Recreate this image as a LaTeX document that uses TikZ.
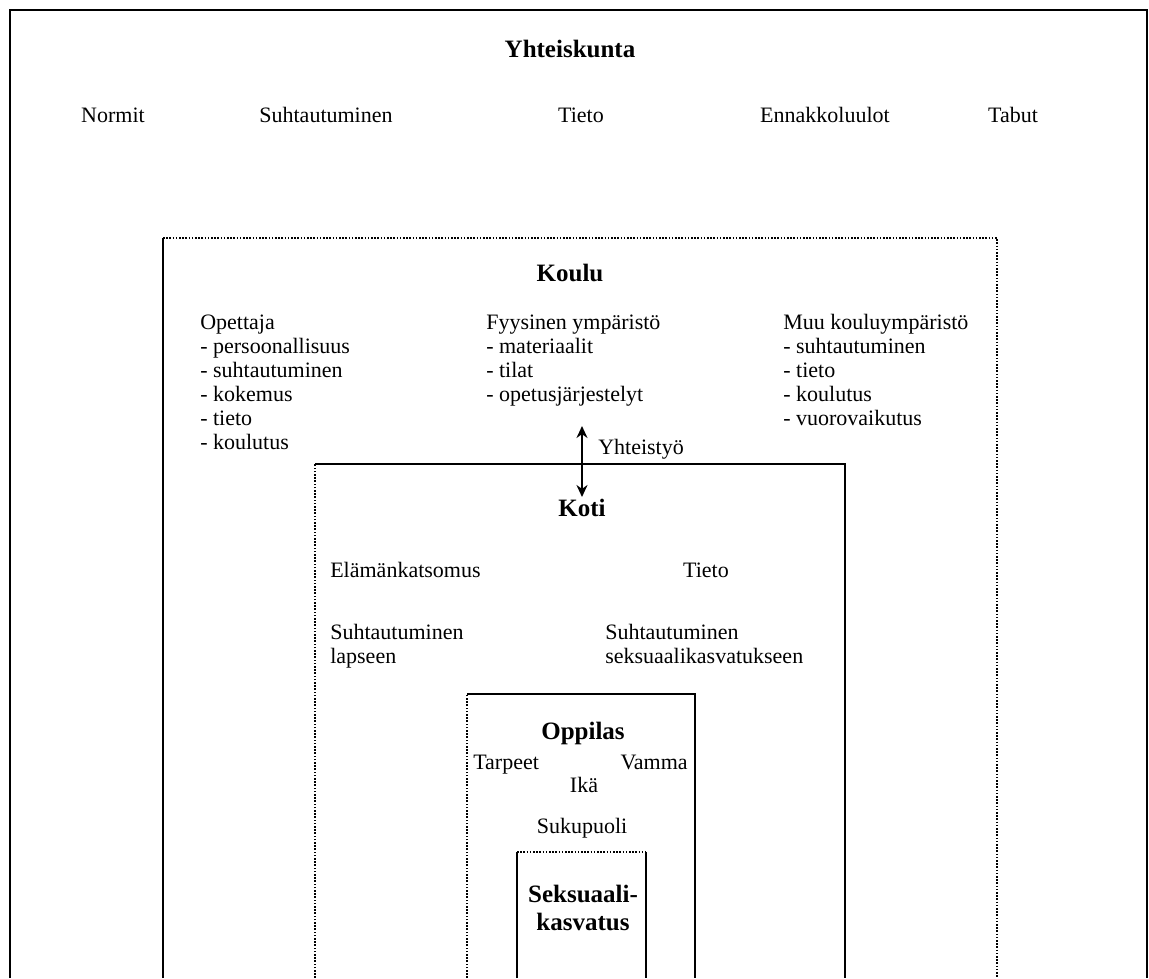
\documentclass[tikz,border=0pt]{standalone}
\usepackage{fontspec}
\setmainfont{Liberation Serif}
\usetikzlibrary{arrows.meta, positioning}

\begin{document}
\begin{tikzpicture}[x=1pt,y=-1pt,>={Stealth[length=12pt,width=11pt]},semithick]
	\tikzset{wall/.style={line width=1.4pt},
		dotwall/.style={line width=1.4pt,dash pattern=on 1.6pt off 1.6pt},
		txt/.style={inner sep=0pt,font=\fontsize{22}{24}\selectfont},
		lst/.style={txt,align=left,anchor=base west},
		ttl/.style={inner sep=0pt,font=\fontsize{25}{28}\selectfont\bfseries}}
	\useasboundingbox (0,0) rectangle (1149,978);
	% boxes, open at the bottom
	\draw[wall] (10,978) -- (10,10) -- (1147,10) -- (1147,978);
	\draw[wall] (163,978) -- (163,238);
	\draw[dotwall] (163,238) -- (997,238) -- (997,978);
	\draw[dotwall] (315,978) -- (315,464);
	\draw[wall] (315,464) -- (845,464) -- (845,978);
	\draw[dotwall] (467,978) -- (467,694);
	\draw[wall] (467,694) -- (695,694) -- (695,978);
	\draw[wall] (517,978) -- (517,852);
	\draw[dotwall] (517,852) -- (646,852);
	\draw[wall] (646,852) -- (646,978);
	% Yhteiskunta
	\node[ttl] (yk) at (570,49) {Yhteiskunta};
	\node[txt] (normit) at (113,115) {Normit};
	\node[txt] (suht) at (326,115) {Suhtautuminen};
	\node[txt] (tieto) at (581,115) {Tieto};
	\node[txt] (ennak) at (825,115) {Ennakkoluulot};
	\node[txt] (tabut) at (1013,115) {Tabut};
	% Koulu (lists placed by the baseline of their last line)
	\node[ttl] (koulu) at (570,273) {Koulu};
	\node[lst] (opettaja) at (200,449) {Opettaja\\- persoonallisuus\\- suhtautuminen\\- kokemus\\- tieto\\- koulutus};
	\node[lst] (fyys) at (486,401) {Fyysinen ympäristö\\- materiaalit\\- tilat\\- opetusjärjestelyt};
	\node[lst] (muu) at (783,425) {Muu kouluympäristö\\- suhtautuminen\\- tieto\\- koulutus\\- vuorovaikutus};
	\coordinate (yt1) at (582,426);
	\coordinate (yt2) at (582,497);
	\draw[<->,line width=2.5pt] (yt1) -- (yt2);
	\node[txt,anchor=west] (yt) at (598,449) {Yhteistyö};
	% Koti
	\node[ttl] (koti) at (582,508) {Koti};
	\node[txt,anchor=west] (elam) at (330,570) {Elämänkatsomus};
	\node[txt] (ktieto) at (706,570) {Tieto};
	\node[lst] (lapseen) at (330,663) {Suhtautuminen\\lapseen};
	\node[lst] (seksk) at (605,663) {Suhtautuminen\\seksuaalikasvatukseen};
	% Oppilas
	\node[ttl] (oppilas) at (583,733) {Oppilas};
	\node[txt,anchor=base west] (tarpeet) at (473,769) {Tarpeet};
	\node[txt,anchor=base east] (vamma) at (688,769) {Vamma};
	\node[txt] (ika) at (584,785) {Ikä};
	\node[txt] (suku) at (582,828) {Sukupuoli};
	% Seksuaalikasvatus
	\node[ttl,align=center] (sk) at (583,908) {Seksuaali-\\kasvatus};
\end{tikzpicture}
\end{document}
